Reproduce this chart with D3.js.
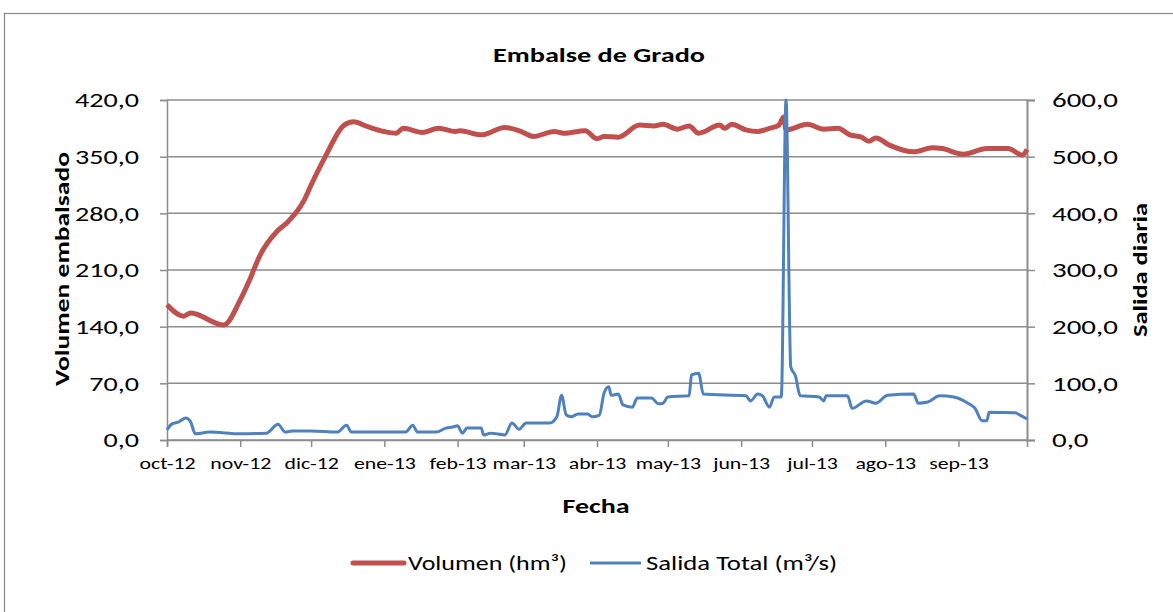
<!DOCTYPE html>
<html>
<head>
<meta charset="utf-8">
<script src="https://cdn.jsdelivr.net/npm/d3@7"></script>
<style>
  body { margin: 0; background: #fff; }
  svg { font-family: Carlito, Calibri, Lato, sans-serif; }
</style>
</head>
<body>
<div id="chart"></div>
<script>
// Volumen embalsado (hm3)
var volDates = ["2012-10-01","2012-10-08","2012-10-11","2012-10-25","2012-11-01","2012-11-05","2012-11-09",
  "2012-11-17","2012-11-21","2012-11-28","2012-12-01","2012-12-07","2012-12-15","2012-12-19","2012-12-25",
  "2013-01-01","2013-01-06","2013-01-09","2013-01-17","2013-01-24","2013-01-31","2013-02-02","2013-02-11",
  "2013-02-21","2013-02-28","2013-03-05","2013-03-14","2013-03-18","2013-03-27","2013-04-01","2013-04-04",
  "2013-04-10","2013-04-19","2013-04-25","2013-04-29","2013-05-05","2013-05-10","2013-05-14","2013-05-23",
  "2013-05-25","2013-05-28","2013-06-03","2013-06-08","2013-06-13","2013-06-17","2013-06-19","2013-06-20",
  "2013-06-29","2013-07-06","2013-07-12","2013-07-17","2013-07-22","2013-07-25","2013-07-28","2013-08-03",
  "2013-08-13","2013-08-21","2013-08-25","2013-09-03","2013-09-13","2013-09-22","2013-09-28","2013-09-30"];
var volValues = [167,153,157,142,173,198,226,
  259,269,296,315,350,389,393,387,
  381,379,385,380,385,381,382,377,
  386,381,375,381,379,382,372,375,
  374,389,388,390,384,388,379,389,
  385,390,383,381,385,389,399,383,
  390,384,385,377,374,369,373,364,
  356,361,360,353,360,360,352,359];

// Salida total (m3/s)
var flowDates = ["2012-10-01","2012-10-03","2012-10-06","2012-10-09","2012-10-11","2012-10-13","2012-10-19",
  "2012-11-01","2012-11-12","2012-11-17","2012-11-20","2012-11-23","2012-12-01","2012-12-12","2012-12-16",
  "2012-12-18","2012-12-28","2013-01-10","2013-01-13","2013-01-15","2013-01-23","2013-01-27","2013-01-30",
  "2013-02-01","2013-02-03","2013-02-05","2013-02-11","2013-02-12","2013-02-15","2013-02-21","2013-02-24",
  "2013-02-27","2013-03-02","2013-03-12","2013-03-15","2013-03-17","2013-03-19","2013-03-21","2013-03-24",
  "2013-03-28","2013-03-30","2013-04-02","2013-04-04","2013-04-06","2013-04-07","2013-04-10","2013-04-12",
  "2013-04-16","2013-04-18","2013-04-24","2013-04-27","2013-04-29","2013-05-01","2013-05-10","2013-05-11",
  "2013-05-14","2013-05-16","2013-06-03","2013-06-05","2013-06-08","2013-06-10","2013-06-13","2013-06-15",
  "2013-06-18","2013-06-20","2013-06-22","2013-06-24","2013-06-26","2013-07-04","2013-07-06","2013-07-07",
  "2013-07-16","2013-07-18","2013-07-24","2013-07-28","2013-08-02","2013-08-13","2013-08-15","2013-08-19",
  "2013-08-24","2013-08-30","2013-09-05","2013-09-08","2013-09-11","2013-09-13","2013-09-14","2013-09-25",
  "2013-09-27","2013-09-30"];
var flowValues = [18,28,32,39,32,11,14,
  11,12,28,14,16,16,14,26,
  14,14,14,26,14,14,21,23,
  25,12,21,21,9,12,9,30,
  19,30,30,41,79,44,41,46,
  46,41,44,83,94,79,81,62,
  58,74,74,64,65,76,78,115,
  118,81,78,69,81,78,58,76,
  76,600,129,113,78,76,69,78,
  78,56,69,65,79,81,65,67,
  78,76,65,56,34,34,49,48,
  44,37];

var monthLabels = ["oct-12","nov-12","dic-12","ene-13","feb-13","mar-13","abr-13","may-13","jun-13","jul-13","ago-13","sep-13"];
var leftTicks = [0, 70, 140, 210, 280, 350, 420];
var rightTicks = [0, 100, 200, 300, 400, 500, 600];

var svgWidth = 1173;
var svgHeight = 612;
var margin = { top: 100, right: 146, bottom: 172, left: 167 };
var width = svgWidth - margin.left - margin.right;
var height = svgHeight - margin.top - margin.bottom;

var parse = d3.timeParse("%Y-%m-%d");
var volData = volDates.map((d, i) => ({ date: parse(d), value: volValues[i] }));
var flowData = flowDates.map((d, i) => ({ date: parse(d), value: flowValues[i] }));

// the original text is drawn wider than our fallback font, so stretch it
function stretch(sel, f) {
  sel.each(function() {
    var w = this.getComputedTextLength();
    d3.select(this)
      .attr("textLength", w * f)
      .attr("lengthAdjust", "spacingAndGlyphs");
  });
}

var svg = d3.select("#chart")
  .append("svg")
  .attr("width", svgWidth)
  .attr("height", svgHeight);

// outer chart frame
svg.append("rect")
  .attr("x", 4.5).attr("y", 13.5)
  .attr("width", 1180).attr("height", 620)
  .attr("fill", "none")
  .attr("stroke", "#888")
  .attr("stroke-width", 1.2);

var chartGroup = svg.append("g")
  .attr("transform", `translate(${margin.left}, ${margin.top})`);

var xScale = d3.scaleTime()
  .domain([parse("2012-10-01"), parse("2013-09-30")])
  .range([0, width]);

var yLeft = d3.scaleLinear().domain([0, 420]).range([height, 0]);
var yRight = d3.scaleLinear().domain([0, 600]).range([height, 0]);

// gridlines
chartGroup.append("g")
  .selectAll("line")
  .data(leftTicks)
  .enter()
  .append("line")
  .attr("x1", 0).attr("x2", width)
  .attr("y1", d => yLeft(d)).attr("y2", d => yLeft(d))
  .attr("stroke", "#8c8c8c")
  .attr("stroke-width", 1.5);

var fmt = d => d3.format(".1f")(d).replace(".", ",");

// left axis
var leftAxis = d3.axisLeft(yLeft)
  .tickValues(leftTicks)
  .tickSize(7)
  .tickFormat(fmt);
var gl = chartGroup.append("g").call(leftAxis);
gl.select(".domain").attr("stroke", "#8c8c8c").attr("stroke-width", 1.5);
gl.selectAll(".tick line").attr("stroke", "#8c8c8c").attr("stroke-width", 1.5);
gl.selectAll("text").attr("font-size", 20.5).attr("fill", "#000").attr("x", -28).attr("dy", "0.34em")
  .attr("font-family", "Carlito, Calibri, Lato, sans-serif");
stretch(gl.selectAll("text"), 1.37);

// right axis
var rightAxis = d3.axisRight(yRight)
  .tickValues(rightTicks)
  .tickSize(8)
  .tickFormat(fmt);
var gr = chartGroup.append("g")
  .attr("transform", `translate(${width}, 0)`)
  .call(rightAxis);
gr.select(".domain").attr("stroke", "#8c8c8c").attr("stroke-width", 2);
gr.selectAll(".tick line").attr("stroke", "#8c8c8c").attr("stroke-width", 1.5);
gr.selectAll("text").attr("font-size", 20.5).attr("fill", "#000").attr("x", 25).attr("dy", "0.34em")
  .attr("font-family", "Carlito, Calibri, Lato, sans-serif");
stretch(gr.selectAll("text"), 1.41);

// bottom axis, ticks at month starts
var months = d3.timeMonth.range(parse("2012-10-01"), parse("2013-10-01"));
var bottomAxis = d3.axisBottom(xScale)
  .tickValues(months)
  .tickSize(7)
  .tickFormat((d, i) => monthLabels[i]);
var gb = chartGroup.append("g")
  .attr("transform", `translate(0, ${height})`)
  .call(bottomAxis);
gb.select(".domain").attr("stroke", "#8c8c8c").attr("stroke-width", 1.5);
gb.selectAll(".tick line").attr("stroke", "#8c8c8c").attr("stroke-width", 1.5);
gb.selectAll("text").attr("font-size", 16).attr("fill", "#000").attr("y", 18)
  .attr("font-family", "Carlito, Calibri, Lato, sans-serif");
stretch(gb.selectAll("text"), 1.36);

// series
var volLine = d3.line()
  .x(d => xScale(d.date))
  .y(d => yLeft(d.value))
  .curve(d3.curveMonotoneX);

var flowLine = d3.line()
  .x(d => xScale(d.date))
  .y(d => yRight(d.value))
  .curve(d3.curveMonotoneX);

chartGroup.append("path")
  .datum(volData)
  .attr("d", volLine)
  .attr("fill", "none")
  .attr("stroke", "#C0504D")
  .attr("stroke-width", 5)
  .attr("stroke-linejoin", "round");

chartGroup.append("path")
  .datum(flowData)
  .attr("d", flowLine)
  .attr("fill", "none")
  .attr("stroke", "#4F81BD")
  .attr("stroke-width", 3)
  .attr("stroke-linejoin", "round");

// titles
svg.append("text")
  .attr("x", 599).attr("y", 62)
  .attr("text-anchor", "middle")
  .attr("font-size", 20).attr("font-weight", "bold")
  .attr("textLength", 212).attr("lengthAdjust", "spacingAndGlyphs")
  .text("Embalse de Grado");

svg.append("text")
  .attr("x", 596).attr("y", 513)
  .attr("text-anchor", "middle")
  .attr("font-size", 21).attr("font-weight", "bold")
  .attr("textLength", 67).attr("lengthAdjust", "spacingAndGlyphs")
  .text("Fecha");

svg.append("text")
  .attr("transform", "rotate(-90)")
  .attr("x", -269).attr("y", 69)
  .attr("text-anchor", "middle")
  .attr("font-size", 21).attr("font-weight", "bold")
  .attr("textLength", 234).attr("lengthAdjust", "spacingAndGlyphs")
  .text("Volumen embalsado");

svg.append("text")
  .attr("transform", "rotate(-90)")
  .attr("x", -270).attr("y", 1147)
  .attr("text-anchor", "middle")
  .attr("font-size", 21).attr("font-weight", "bold")
  .attr("textLength", 134).attr("lengthAdjust", "spacingAndGlyphs")
  .text("Salida diaria");

// legend
var legend = svg.append("g");
legend.append("line")
  .attr("x1", 353).attr("x2", 404).attr("y1", 563).attr("y2", 563)
  .attr("stroke", "#C0504D").attr("stroke-width", 5).attr("stroke-linecap", "round");
legend.append("text")
  .attr("x", 408).attr("y", 570)
  .attr("font-size", 20.5)
  .attr("textLength", 159).attr("lengthAdjust", "spacingAndGlyphs")
  .text("Volumen (hm³)");
legend.append("line")
  .attr("x1", 590).attr("x2", 641).attr("y1", 563).attr("y2", 563)
  .attr("stroke", "#4F81BD").attr("stroke-width", 3);
legend.append("text")
  .attr("x", 646).attr("y", 570)
  .attr("font-size", 20.5)
  .attr("textLength", 191).attr("lengthAdjust", "spacingAndGlyphs")
  .text("Salida Total (m³/s)");
</script>
</body>
</html>
